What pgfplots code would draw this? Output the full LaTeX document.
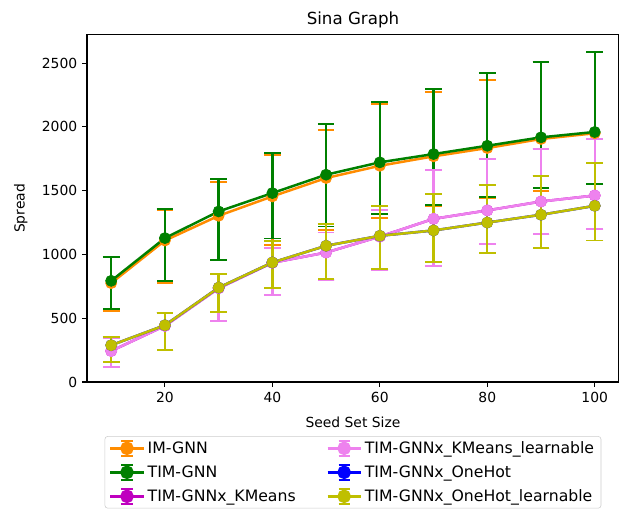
\documentclass[border=0pt]{standalone}
\usepackage{fontspec}
\setmainfont{DejaVu Sans}
\usepackage{pgfplots}
\usepackage{pgfplotstable}
\pgfplotsset{compat=1.18}
\definecolor{cOrange}{HTML}{FF8C00}
\definecolor{cGreen}{HTML}{008000}
\definecolor{cMag}{HTML}{BF00BF}
\definecolor{cViolet}{HTML}{EE82EE}
\definecolor{cBlue}{HTML}{0000FF}
\definecolor{cOlive}{HTML}{BFBF00}
% x  mean  upper  lower
\pgfplotstableread{
x y t b
10 775 980 555
20 1109 1350 775
30 1303 1570 960
40 1455 1776 1075
50 1599 1978 1193
60 1695 2180 1285
70 1769 2274 1381
80 1834 2370 1440
90 1905 2508 1499
100 1950 2585 1548
}\imgnn
\pgfplotstableread{
x y t b
10 793 983 573
20 1128 1355 795
30 1337 1591 958
40 1481 1795 1125
50 1625 2020 1219
60 1722 2193 1319
70 1787 2297 1389
80 1852 2423 1447
90 1918 2512 1518
100 1960 2588 1552
}\timgnn
\pgfplotstableread{
x y t b
10 243 345 120
20 440 544 251
30 735 845 476
40 935 1049 680
50 1015 1172 800
60 1140 1345 874
70 1279 1664 911
80 1345 1750 1081
90 1415 1829 1159
100 1462 1905 1198
}\kmeans
\pgfplotstableread{
x y t b
10 243 345 120
20 440 544 251
30 735 845 476
40 935 1049 680
50 1015 1172 800
60 1140 1345 874
70 1279 1664 911
80 1345 1750 1081
90 1415 1829 1159
100 1462 1905 1198
}\kmeanslearn
\pgfplotstableread{
x y t b
10 288 351 157
20 445 540 251
30 740 848 547
40 937 1104 735
50 1068 1240 810
60 1146 1381 887
70 1188 1473 937
80 1250 1541 1010
90 1311 1612 1054
100 1381 1714 1109
}\onehot
\pgfplotstableread{
x y t b
10 288 351 157
20 445 540 251
30 740 848 547
40 937 1104 735
50 1068 1240 810
60 1146 1381 887
70 1188 1473 937
80 1250 1541 1010
90 1311 1612 1054
100 1381 1714 1109
}\onehotlearn
\pgfplotsset{
  ser/.style={
    color=#1, line width=1.8pt, mark=*, mark size=4pt,
    mark options={solid, fill=#1, draw=#1, line width=0.5pt},
    error bars/.cd, y dir=both, y explicit,
    error bar style={line width=1.7pt, color=#1},
    error mark options={rotate=90, mark size=6pt, line width=1.4pt, color=#1},
  },
}
\begin{document}
\begin{tikzpicture}
\useasboundingbox (-62.64pt,-95.76pt) rectangle (387.36pt,275.04pt);
\begin{axis}[
  scale only axis,
  width=383pt, height=250pt,
  xmin=5.5, xmax=104.5, ymin=0, ymax=2722,
  xtick={20,40,60,80,100},
  ytick={0,500,1000,1500,2000,2500},
  tick pos=left,
  tick align=outside,
  major tick length=3.5pt,
  tick style={line width=0.8pt, black},
  axis line style={line width=0.8pt},
  /pgf/number format/1000 sep={},
  /pgf/number format/assume math mode=true,
  tick label style={font=\fontsize{10}{12}\selectfont},
  title={Sina Graph},
  title style={font=\fontsize{12}{14}\selectfont, yshift=-4.5pt},
  xlabel={Seed Set Size},
  ylabel={Spread},
  label style={font=\fontsize{10}{12}\selectfont},
  xlabel style={yshift=-4pt},
  ylabel style={yshift=3.5pt},
  clip=false,
  legend columns=3,
  transpose legend,
  legend style={
    at={(0.5,-0.156)}, anchor=north,
    draw=black!20, rounded corners=2pt,
    font=\fontsize{11.3}{13}\selectfont,
    inner xsep=3pt, inner ysep=1.5pt,
    row sep=3.3pt,
    /tikz/every even column/.append style={column sep=20pt},
  },
  legend cell align=left,
  legend image code/.code={
    \draw[#1, mark=none] (0pt,0pt) -- (24pt,0pt);
    \draw[#1, mark=none] (12pt,-5.5pt) -- (12pt,5.5pt);
    \draw[#1, mark=none, line width=1.3pt] (8pt,-5.5pt) -- (16pt,-5.5pt) (8pt,5.5pt) -- (16pt,5.5pt);
    \fill[#1, mark=none] (12pt,0pt) circle (4pt);
  },
]
\addplot[ser=cOrange] table[x=x, y=y, y error plus expr=\thisrow{t}-\thisrow{y}, y error minus expr=\thisrow{y}-\thisrow{b}] {\imgnn};
\addlegendentry{IM-GNN}
\addplot[ser=cGreen] table[x=x, y=y, y error plus expr=\thisrow{t}-\thisrow{y}, y error minus expr=\thisrow{y}-\thisrow{b}] {\timgnn};
\addlegendentry{TIM-GNN}
\addplot[ser=cMag] table[x=x, y=y, y error plus expr=\thisrow{t}-\thisrow{y}, y error minus expr=\thisrow{y}-\thisrow{b}] {\kmeans};
\addlegendentry{TIM-GNNx\_KMeans}
\addplot[ser=cViolet] table[x=x, y=y, y error plus expr=\thisrow{t}-\thisrow{y}, y error minus expr=\thisrow{y}-\thisrow{b}] {\kmeanslearn};
\addlegendentry{TIM-GNNx\_KMeans\_learnable}
\addplot[ser=cBlue] table[x=x, y=y, y error plus expr=\thisrow{t}-\thisrow{y}, y error minus expr=\thisrow{y}-\thisrow{b}] {\onehot};
\addlegendentry{TIM-GNNx\_OneHot}
\addplot[ser=cOlive] table[x=x, y=y, y error plus expr=\thisrow{t}-\thisrow{y}, y error minus expr=\thisrow{y}-\thisrow{b}] {\onehotlearn};
\addlegendentry{TIM-GNNx\_OneHot\_learnable}
\end{axis}
\end{tikzpicture}
\end{document}
